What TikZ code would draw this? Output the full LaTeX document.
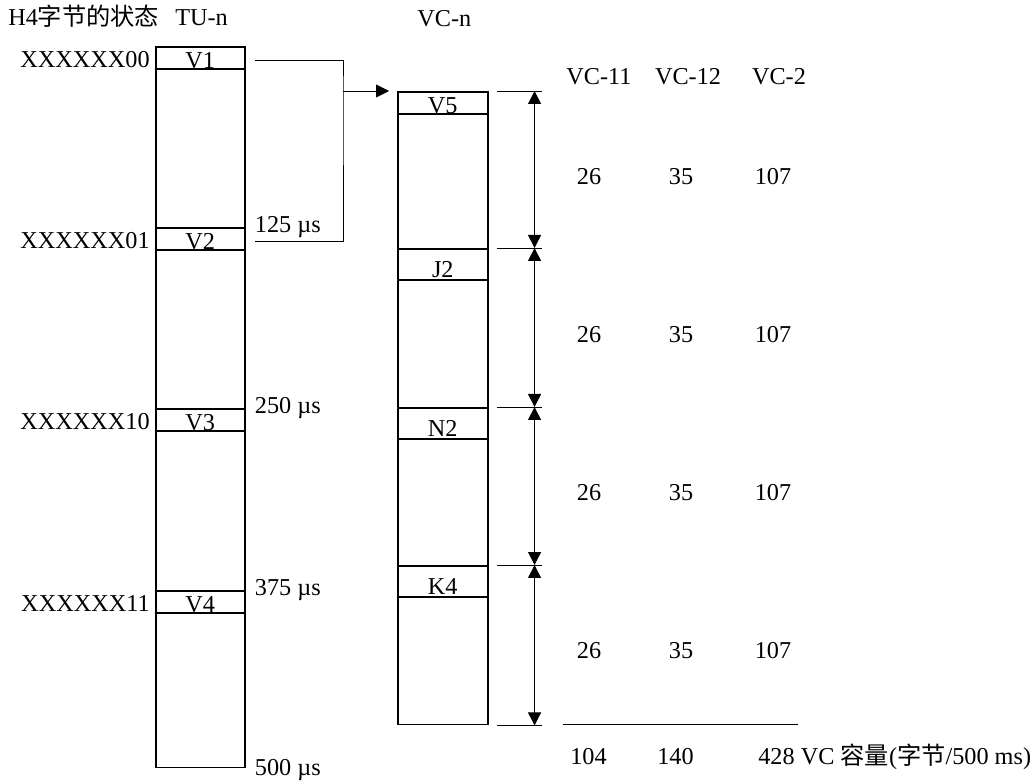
\documentclass[tikz,border=0pt]{standalone}
\usepackage{fontspec}
\setmainfont{Liberation Serif}
\newfontfamily\cjk{Noto Sans CJK SC}
\usepackage{tikz}
\usetikzlibrary{arrows.meta, positioning, calc}
\tikzset{
  colbox/.style={rectangle, draw, line width=0.9pt, inner sep=0pt, anchor=north west},
  tuslot/.style={rectangle, draw, line width=0.9pt, minimum width=1.78cm,
    inner xsep=0pt, inner ysep=0.01cm, text height=0.42cm, text depth=0pt, anchor=north west},
  vcslot/.style={rectangle, draw, line width=0.9pt, minimum width=1.8cm,
    inner xsep=0pt, inner ysep=0.05cm, text height=0.52cm, text depth=0pt, anchor=north west},
  lbl/.style={inner sep=0pt},
  thinline/.style={line width=0.5pt},
  arrowline/.style={-{Triangle[length=0.26cm, width=0.26cm]}, line width=0.5pt},
  dimarrow/.style={{Triangle[length=0.26cm, width=0.26cm]}-{Triangle[length=0.26cm, width=0.26cm]}, line width=0.5pt}
}

\begin{document}
\begin{tikzpicture}[x=0.02cm, y=-0.02cm, font=\fontsize{13.8pt}{16pt}\selectfont]
  \useasboundingbox (0,0) rectangle (1035,783);

  % Headers
  \node[lbl, anchor=base west] (hdrh4) at (8,26) {H4{\cjk 字节的状态}};
  \node[lbl, anchor=base west] (hdrtu) at (175,26) {TU-n};
  \node[lbl, anchor=base west] (hdrvc) at (417,27) {VC-n};

  % TU-n column and its V slots
  \node[colbox, minimum width=1.78cm, minimum height=14.42cm] (tu) at (155,46) {};
  \node[tuslot] (v1) at (155,46) {V1};
  \node[tuslot] (v2) at (155,227) {V2};
  \node[tuslot] (v3) at (155,408) {V3};
  \node[tuslot] (v4) at (155,590) {V4};

  % H4 byte states
  \node[lbl, anchor=base east] (h00) at ([xshift=-0.1cm, yshift=0.04cm]v1.south west) {XXXXXX00};
  \node[lbl, anchor=base east] (h01) at ([xshift=-0.1cm, yshift=0.04cm]v2.south west) {XXXXXX01};
  \node[lbl, anchor=base east] (h10) at ([xshift=-0.1cm, yshift=0.04cm]v3.south west) {XXXXXX10};
  \node[lbl, anchor=base east] (h11) at ([xshift=-0.1cm, yshift=0.04cm]v4.south west) {XXXXXX11};

  % Time marks
  \node[lbl, anchor=base west] (t125) at ([xshift=0.18cm, yshift=-0.12cm]v2.north east) {125 µs};
  \node[lbl, anchor=base west] (t250) at ([xshift=0.18cm, yshift=-0.12cm]v3.north east) {250 µs};
  \node[lbl, anchor=base west] (t375) at ([xshift=0.18cm, yshift=-0.12cm]v4.north east) {375 µs};
  \node[lbl, anchor=base west] (t500) at ([xshift=0.18cm, yshift=-0.14cm]tu.south east) {500 µs};

  % VC-n column and its slots
  \node[colbox, minimum width=1.8cm, minimum height=12.66cm] (vc) at (397,91) {};
  \node[vcslot, inner ysep=0.01cm, text height=0.42cm] (v5) at (397,91) {V5};
  \node[vcslot] (j2) at (397,248) {J2};
  \node[vcslot] (n2) at (397,407) {N2};
  \node[vcslot] (k4) at (397,565) {K4};

  % Pointer from the first frame to VC-n
  \coordinate (b1) at ([xshift=0.18cm, yshift=-0.28cm]v1.north east);
  \coordinate (b2) at ([xshift=0.18cm, yshift=0.18cm]v2.south east);
  \coordinate (bj) at (343,91);
  \draw[thinline] (b1) -| (bj) |- (b2);
  \draw[arrowline] (bj) -- ([xshift=-0.16cm]vc.north west);

  % Dimension lines
  \foreach \n/\s in {d0/v5.north east, d1/j2.north east, d2/n2.north east, d3/k4.north east, d4/vc.south east} {
    \draw[thinline] ([xshift=0.16cm]\s) -- ([xshift=1.06cm]\s);
    \coordinate (\n) at ([xshift=0.92cm]\s);
  }
  \foreach \a/\b in {d0/d1, d1/d2, d2/d3, d3/d4}
    \draw[dimarrow] (\a) -- (\b);

  % Capacity table
  \node[lbl, anchor=base] (cvc11) at (599,85) {VC-11};
  \node[lbl, anchor=base] (cvc12) at (688,85) {VC-12};
  \node[lbl, anchor=base] (cvc2) at (779,85) {VC-2};
  \foreach \y [count=\i] in {185,343,501,659} {
    \node[lbl, anchor=base] (na\i) at (589,\y) {26};
    \node[lbl, anchor=base] (nb\i) at (681,\y) {35};
    \node[lbl, anchor=base] (nc\i) at (773,\y) {107};
  }
  \coordinate (sumL) at (563,724);
  \coordinate (sumR) at (798,724);
  \draw[thinline] (sumL) -- (sumR);
  \node[lbl, anchor=base west] (s11) at (570,765) {104};
  \node[lbl, anchor=base west] (s12) at (657,765) {140};
  \node[lbl, anchor=base west] (s2) at (758,765) {428 VC {\cjk 容量}({\cjk 字节}/500 ms)};
\end{tikzpicture}
\end{document}
